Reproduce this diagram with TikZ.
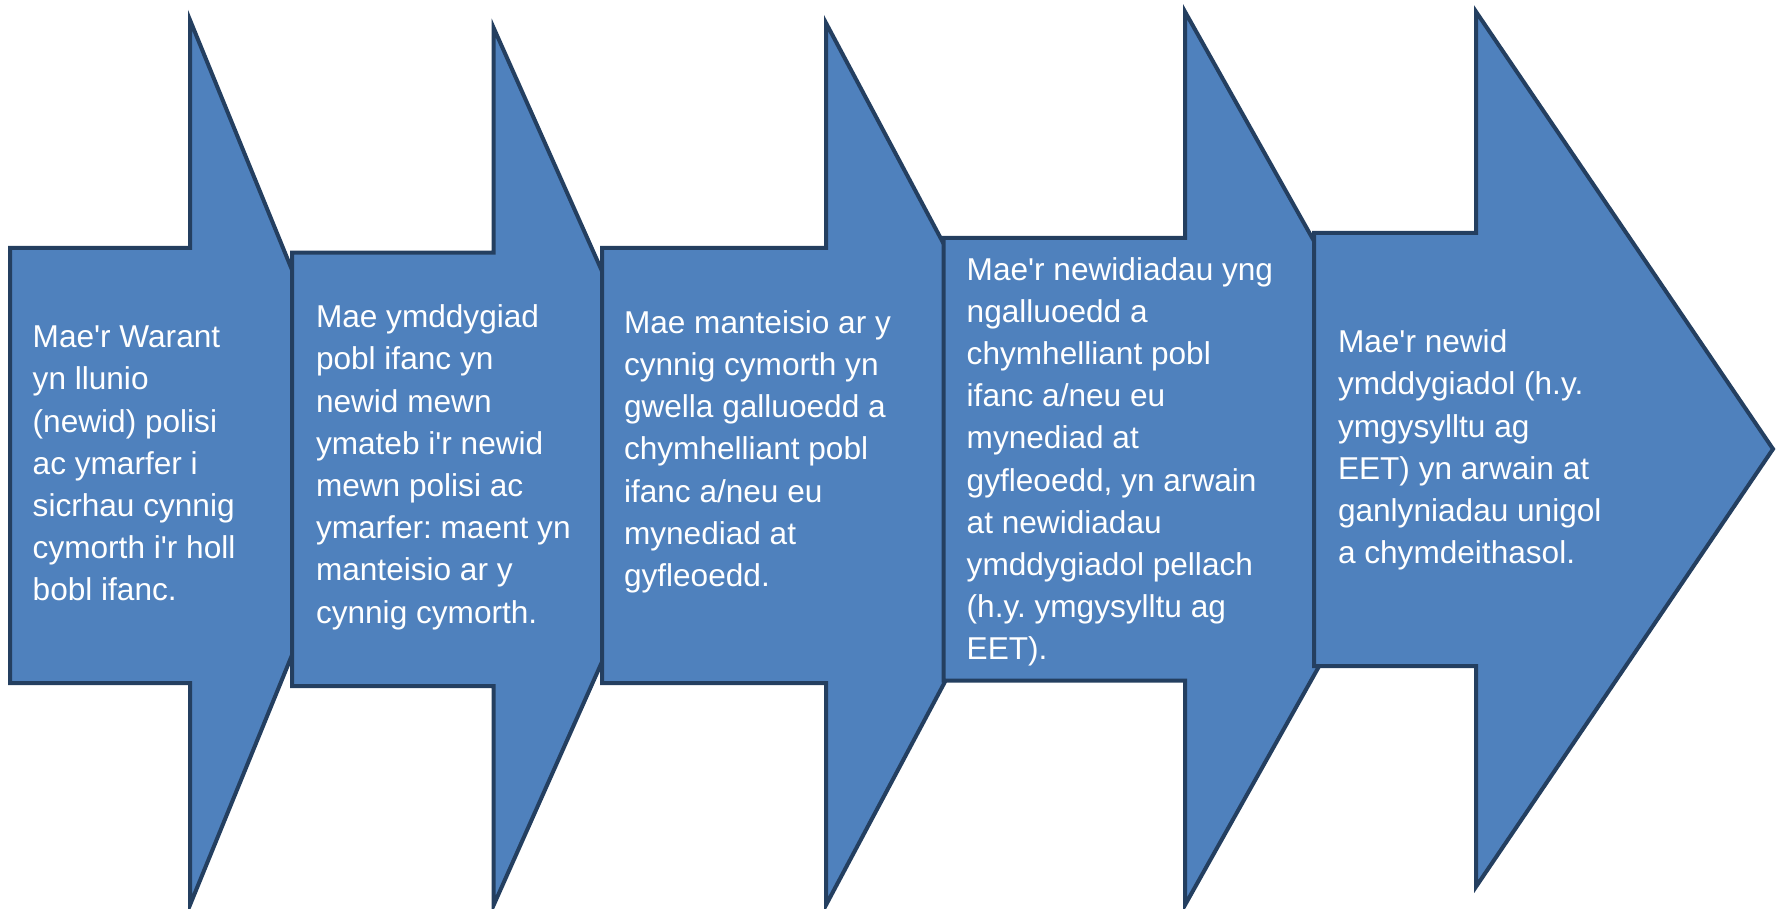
\documentclass[tikz,border=0pt]{standalone}
\usepackage{fontspec}
\setmainfont{Liberation Sans}[Ligatures=TeXOff]
\definecolor{arrfill}{HTML}{4F81BD}
\definecolor{arrline}{HTML}{243F60}
\frenchspacing
\begin{document}
\begin{tikzpicture}[x=0.5pt,y=-0.5pt,
  arrowshape/.style={fill=arrfill,draw=arrline,line width=2pt,line join=miter},
  steptext/.style={anchor=north west,inner sep=0pt,outer sep=0pt,text=white,align=left,
    font=\fontsize{15.8}{21.1}\selectfont\frenchspacing}]
\useasboundingbox (0,0) rectangle (1776,909);
% arrow 1
\draw[arrowshape] (10,248) -- (190,248) -- (190,20) -- (370.6,462.5) -- (190,905) -- (190,683) -- (10,683) -- cycle;
% arrow 2
\draw[arrowshape] (292,252.7) -- (493.7,252.7) -- (493.7,28) -- (689,466.5) -- (493.7,905) -- (493.7,686) -- (292,686) -- cycle;
% arrow 3
\draw[arrowshape] (602,248) -- (826,248) -- (826,23) -- (1061,464) -- (826,905) -- (826,683) -- (602,683) -- cycle;
% arrow 4
\draw[arrowshape] (943.6,238) -- (1185,238) -- (1185,11.7) -- (1436,458) -- (1185,905) -- (1185,680.7) -- (943.6,680.7) -- cycle;
% arrow 5
\draw[arrowshape] (1314,233) -- (1476,233) -- (1476,11.7) -- (1773,449) -- (1476,886.7) -- (1476,666) -- (1314,666) -- cycle;

\node[steptext] (t1) at (32.7,318.2) {\strut Mae'r Warant\\ yn llunio\\ (newid) polisi\\ ac ymarfer i\\ sicrhau cynnig\\ cymorth i'r holl\\ bobl ifanc.};
\node[steptext] (t2) at (316,298.2) {\strut Mae ymddygiad\\ pobl ifanc yn\\ newid mewn\\ ymateb i'r newid\\ mewn polisi ac\\ ymarfer: maent yn\\ manteisio ar y\\ cynnig cymorth.};
\node[steptext] (t3) at (624,303.8) {\strut Mae manteisio ar y\\ cynnig cymorth yn\\ gwella galluoedd a\\ chymhelliant pobl\\ ifanc a/neu eu\\ mynediad at\\ gyfleoedd.};
\node[steptext] (t4) at (966.7,250.5) {\strut Mae'r newidiadau yng\\ ngalluoedd a\\ chymhelliant pobl\\ ifanc a/neu eu\\ mynediad at\\ gyfleoedd, yn arwain\\ at newidiadau\\ ymddygiadol pellach\\ (h.y. ymgysylltu ag\\ EET).};
\node[steptext] (t5) at (1338,323.2) {\strut Mae'r newid\\ ymddygiadol (h.y.\\ ymgysylltu ag\\ EET) yn arwain at\\ ganlyniadau unigol\\ a chymdeithasol.};
\end{tikzpicture}
\end{document}
